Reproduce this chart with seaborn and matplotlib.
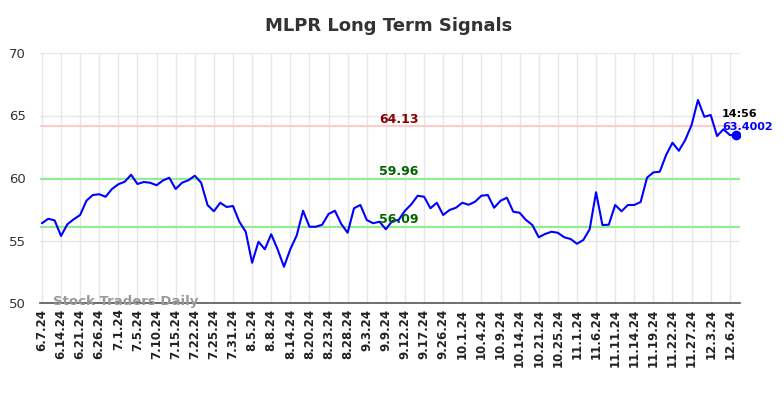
import numpy as np
import pandas as pd
import matplotlib
matplotlib.use('Agg')
import matplotlib.pyplot as plt
import seaborn as sns

# Signal values (one point per sample)
signal = [56.38, 56.74, 56.61, 55.36, 56.30, 56.70, 57.04, 58.19, 58.64, 58.70,
          58.50, 59.12, 59.50, 59.70, 60.26, 59.52, 59.68, 59.62, 59.42, 59.80,
          60.02, 59.12, 59.62, 59.82, 60.18, 59.62, 57.84, 57.34, 58.02, 57.68,
          57.76, 56.50, 55.70, 53.22, 54.90, 54.30, 55.50, 54.30, 52.90, 54.30,
          55.40, 57.38, 56.10, 56.10, 56.26, 57.12, 57.38, 56.32, 55.62, 57.58,
          57.84, 56.64, 56.38, 56.50, 55.90, 56.56, 56.64, 57.38, 57.90, 58.58,
          58.50, 57.58, 58.02, 57.04, 57.44, 57.62, 58.02, 57.86, 58.10, 58.58,
          58.64, 57.62, 58.18, 58.42, 57.30, 57.22, 56.64, 56.24, 55.26, 55.52,
          55.70, 55.62, 55.26, 55.12, 54.74, 55.04, 55.90, 58.86, 56.24, 56.26,
          57.84, 57.34, 57.84, 57.84, 58.08, 60.02, 60.45, 60.50, 61.84, 62.82,
          62.18, 63.04, 64.24, 66.24, 64.90, 65.04, 63.36, 63.90, 63.44, 63.4002]

tick_labels = ['6.7.24', '6.14.24', '6.21.24', '6.26.24', '7.1.24', '7.5.24',
               '7.10.24', '7.15.24', '7.22.24', '7.25.24', '7.31.24', '8.5.24',
               '8.8.24', '8.14.24', '8.20.24', '8.23.24', '8.28.24', '9.3.24',
               '9.9.24', '9.12.24', '9.17.24', '9.26.24', '10.1.24', '10.4.24',
               '10.9.24', '10.14.24', '10.21.24', '10.25.24', '11.1.24', '11.6.24',
               '11.11.24', '11.14.24', '11.19.24', '11.22.24', '11.27.24', '12.3.24',
               '12.6.24']

upper_level = 64.13
mid_level = 59.96
lower_level = 56.09
last_time = '14:56'

df = pd.DataFrame({'idx': np.arange(len(signal)), 'value': signal})

sns.set_style('white')
fig = plt.figure(figsize=(7.84, 3.98), dpi=100)
ax = fig.add_axes([40 / 784, 1 - 303 / 398, 700 / 784, 250 / 398])

# grid
ax.set_xticks(np.arange(0, len(tick_labels) * 3, 3))
ax.set_yticks([50, 55, 60, 65, 70])
ax.grid(True, color='#e6e6e6', linewidth=1)
ax.set_axisbelow(True)

# signal levels
ax.axhline(upper_level, color='#ffcccc', linewidth=1.5, zorder=1)
ax.axhline(mid_level, color='#90ee90', linewidth=1.5, zorder=1)
ax.axhline(lower_level, color='#90ee90', linewidth=1.5, zorder=1)

sns.lineplot(data=df, x='idx', y='value', color='blue', linewidth=1.5, ax=ax, zorder=3)
ax.plot(df['idx'].iloc[-1], df['value'].iloc[-1], 'o', color='blue', markersize=6, zorder=4)

mid_x = 56
ax.text(mid_x, upper_level + 0.05, f'{upper_level:.2f}', color='darkred', fontsize=9,
        fontweight='bold', ha='center', va='bottom')
ax.text(mid_x, mid_level + 0.05, f'{mid_level:.2f}', color='darkgreen', fontsize=9,
        fontweight='bold', ha='center', va='bottom')
ax.text(mid_x, lower_level + 0.05, f'{lower_level:.2f}', color='darkgreen', fontsize=9,
        fontweight='bold', ha='center', va='bottom')

last_x = df['idx'].iloc[-1]
ax.text(last_x - 2.2, 65.1, last_time, color='black', fontsize=8, fontweight='bold',
        ha='left', va='center')
ax.text(last_x - 2.2, 64.1, f'{signal[-1]}', color='blue', fontsize=8, fontweight='bold',
        ha='left', va='center', clip_on=False)

ax.text(1.8, 50.1, 'Stock Traders Daily', color='#999999', fontsize=9.5,
        fontweight='bold', ha='left', va='center', zorder=5)

ax.set_xlim(-0.3, 109.6)
ax.set_ylim(50, 70)
ax.set_xticklabels(tick_labels, rotation=90, fontsize=8.5, fontweight='bold', color='#222222')
ax.tick_params(axis='y', labelsize=9.5, labelcolor='#333333', length=0, pad=10)
ax.tick_params(axis='x', length=0, pad=4)
ax.set_xlabel('')
ax.set_ylabel('')

for side in ['left', 'right', 'top']:
    ax.spines[side].set_visible(False)
ax.spines['bottom'].set_color('#555555')
ax.spines['bottom'].set_linewidth(1.2)

fig.suptitle('MLPR Long Term Signals', x=389 / 784, y=1 - 26 / 398, va='center',
             fontsize=13, fontweight='bold', color='#333333')

fig.savefig('out.png', dpi=100)
